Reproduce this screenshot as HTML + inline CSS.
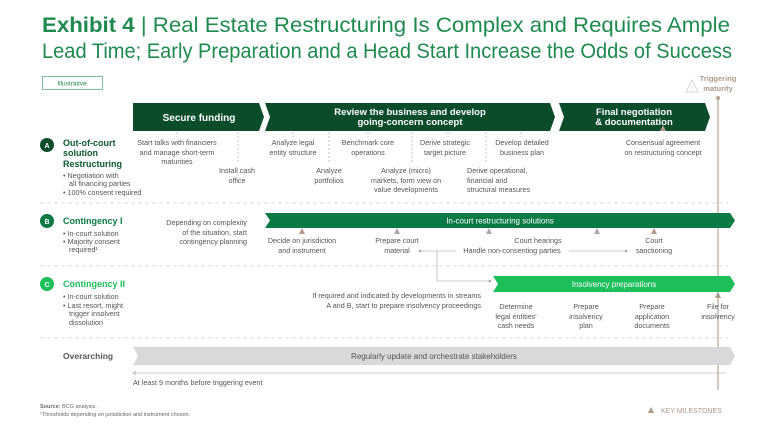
<!DOCTYPE html>
<html><head><meta charset="utf-8"><style>
body{margin:0;background:#fff}
svg{display:block;font-family:"Liberation Sans",sans-serif}
.g{fill:#555;font-size:7.2px}
.w{fill:#fff}
</style></head><body>
<svg width="768" height="432" viewBox="0 0 768 432" xmlns="http://www.w3.org/2000/svg">
<text x="42" y="32" font-size="21" fill="#1e8a50" textLength="688" lengthAdjust="spacingAndGlyphs"><tspan font-weight="bold">Exhibit 4</tspan> | Real Estate Restructuring Is Complex and Requires Ample</text>
<text x="42" y="58" font-size="21" fill="#1e8a50" textLength="690" lengthAdjust="spacingAndGlyphs">Lead Time; Early Preparation and a Head Start Increase the Odds of Success</text>
<rect x="42.5" y="76.5" width="60" height="13" fill="none" stroke="#7fbf9a"/>
<text x="72" y="85.5" font-size="6.5" fill="#1e8a50" text-anchor="middle">Illustrative</text>
<!-- triggering -->
<path d="M686 92 L692 80 L698 92 Z" fill="none" stroke="#ccc" stroke-width="0.8"/>
<text x="692" y="90" font-size="6" fill="#ccc" text-anchor="middle">!</text>
<text x="718" y="81" font-size="7.5" fill="#b09a88" text-anchor="middle" font-weight="bold">Triggering</text>
<text x="718" y="91" font-size="7.5" fill="#b09a88" text-anchor="middle" font-weight="bold">maturity</text>
<line x1="718" y1="98" x2="718" y2="390" stroke="#b8a394" stroke-width="1.2"/>
<circle cx="718" cy="98" r="2" fill="#b8a394"/>
<!-- chevrons -->
<path d="M133 103 H259 L264 117 L259 131 H133 Z" fill="#0b4d2a"/>
<path d="M265 103 H550 L555 117 L550 131 H265 L270 117 Z" fill="#0b4d2a"/>
<path d="M559 103 H705 L710 117 L705 131 H559 L564 117 Z" fill="#0b4d2a"/>
<text x="199" y="121" class="w" font-size="10" font-weight="bold" text-anchor="middle">Secure funding</text>
<text x="410" y="115" class="w" font-size="9.5" font-weight="bold" text-anchor="middle">Review the business and develop</text>
<text x="410" y="125" class="w" font-size="9.5" font-weight="bold" text-anchor="middle">going-concern concept</text>
<text x="634" y="115" class="w" font-size="9.5" font-weight="bold" text-anchor="middle">Final negotiation</text>
<text x="634" y="125" class="w" font-size="9.5" font-weight="bold" text-anchor="middle">&amp; documentation</text>
<path d="M660 131 L663 125 L666 131Z" fill="#b09a88"/>
<!-- row A -->
<circle cx="47" cy="145" r="7" fill="#0b4d2a"/>
<text x="47" y="148" class="w" font-size="7" font-weight="bold" text-anchor="middle">A</text>
<g font-size="9" font-weight="bold" fill="#0b5a32"><text x="63" y="146">Out-of-court</text><text x="63" y="156">solution</text><text x="63" y="167">Restructuring</text></g>
<g class="g" font-size="6.5"><text x="63" y="178">• Negotiation with</text><text x="69" y="186">all financing parties</text><text x="63" y="195">• 100% consent required</text></g>
<g stroke="#999" stroke-width="0.6" stroke-dasharray="2,2"><line x1="238" y1="132" x2="238" y2="163"/><line x1="329" y1="132" x2="329" y2="163"/><line x1="486" y1="132" x2="486" y2="163"/><line x1="412" y1="132" x2="412" y2="163"/><line x1="177" y1="132" x2="177" y2="137"/><line x1="293" y1="132" x2="293" y2="137"/><line x1="368" y1="132" x2="368" y2="137"/><line x1="448" y1="132" x2="448" y2="137"/><line x1="521" y1="132" x2="521" y2="137"/></g>
<g class="g" text-anchor="middle">
<text x="177" y="145">Start talks with financiers</text><text x="177" y="155">and manage short-term</text><text x="177" y="164">maturities</text>
<text x="237" y="173">Install cash</text><text x="237" y="183">office</text>
<text x="293" y="145">Analyze legal</text><text x="293" y="155">entity structure</text>
<text x="329" y="173">Analyze</text><text x="329" y="183">portfolios</text>
<text x="368" y="145">Benchmark core</text><text x="368" y="155">operations</text>
<text x="406" y="173">Analyze (micro)</text><text x="406" y="183">markets, form view on</text><text x="406" y="192">value developments</text>
<text x="445" y="145">Derive strategic</text><text x="445" y="155">target picture</text>
<text x="522" y="145">Develop detailed</text><text x="522" y="155">business plan</text>
<text x="663" y="145">Consensual agreement</text><text x="663" y="155">on restructuring concept</text>
</g>
<g class="g"><text x="467" y="173">Derive operational,</text><text x="467" y="183">financial and</text><text x="467" y="192">structural measures</text></g>
<g stroke="#ccc" stroke-width="0.8" stroke-dasharray="4,3"><line x1="40" y1="203" x2="728" y2="203"/><line x1="40" y1="266" x2="728" y2="266"/><line x1="40" y1="338" x2="728" y2="338"/></g>
<!-- row B -->
<circle cx="47" cy="221" r="7" fill="#0a7a45"/>
<text x="47" y="224" class="w" font-size="7" font-weight="bold" text-anchor="middle">B</text>
<text x="63" y="224" font-size="9" font-weight="bold" fill="#0a7a45">Contingency I</text>
<g class="g" font-size="6.5"><text x="63" y="236">• In-court solution</text><text x="63" y="244">• Majority consent</text><text x="69" y="252">required¹</text></g>
<g class="g" text-anchor="end"><text x="247" y="225">Depending on complexity</text><text x="247" y="235">of the situation, start</text><text x="247" y="244">contingency planning</text></g>
<path d="M265 213 H730 L735 220.5 L730 228 H265 L270 220.5Z" fill="#0a7a45"/>
<text x="500" y="223.5" class="w" font-size="8" text-anchor="middle">In-court restructuring solutions</text>
<g><path d="M299 234 L302 228 L305 234Z" fill="#b09a88"/><path d="M394 234 L397 228 L400 234Z" fill="#aaa"/><path d="M486 234 L489 228 L492 234Z" fill="#aaa"/><path d="M594 234 L597 228 L600 234Z" fill="#aaa"/><path d="M651 234 L654 228 L657 234Z" fill="#b09a88"/></g>
<g class="g" text-anchor="middle"><text x="302" y="243">Decide on jurisdiction</text><text x="302" y="253">and instrument</text><text x="397" y="243">Prepare court</text><text x="397" y="253">material</text><text x="538" y="243">Court hearings</text><text x="512" y="253">Handle non-consenting parties</text><text x="654" y="243">Court</text><text x="654" y="253">sanctioning</text></g>
<g stroke="#999" stroke-width="0.6" fill="none"><path d="M420 251 H456"/><path d="M569 251 H626"/><path d="M437 251 V281 H490"/></g>
<path d="M418 251 l3 -1.5 v3Z M628 251 l-3 -1.5 v3Z M492 281 l-3 -1.5 v3Z" fill="#999"/>
<!-- row C -->
<circle cx="47" cy="284" r="7" fill="#1dbf5a"/>
<text x="47" y="287" class="w" font-size="7" font-weight="bold" text-anchor="middle">C</text>
<text x="63" y="287" font-size="9" font-weight="bold" fill="#1dbf5a">Contingency II</text>
<g class="g" font-size="6.5"><text x="63" y="299">• In-court solution</text><text x="63" y="308">• Last resort, might</text><text x="69" y="316">trigger insolvent</text><text x="69" y="325">dissolution</text></g>
<g class="g" text-anchor="end"><text x="481" y="298">If required and indicated by developments in streams</text><text x="481" y="308">A and B, start to prepare insolvency proceedings</text></g>
<path d="M493 276 H730 L735 284 L730 292 H493 L498 284Z" fill="#1dbf5a"/>
<text x="614" y="287" class="w" font-size="8" text-anchor="middle">Insolvency preparations</text>
<path d="M715 298 L718 292 L721 298Z" fill="#b09a88"/>
<g class="g" text-anchor="middle"><text x="516" y="309">Determine</text><text x="516" y="319">legal entities'</text><text x="516" y="328">cash needs</text><text x="586" y="309">Prepare</text><text x="586" y="319">insolvency</text><text x="586" y="328">plan</text><text x="652" y="309">Prepare</text><text x="652" y="319">application</text><text x="652" y="328">documents</text><text x="718" y="309">File for</text><text x="718" y="319">insolvency</text></g>
<!-- overarching -->
<text x="63" y="359" font-size="8.5" font-weight="bold" fill="#555">Overarching</text>
<path d="M133 347 H730 L735 356 L730 365 H133 L138 356Z" fill="#d9d9d9"/>
<text x="434" y="359" font-size="8" fill="#555" text-anchor="middle">Regularly update and orchestrate stakeholders</text>
<line x1="134" y1="373" x2="726" y2="373" stroke="#bbb" stroke-width="0.8"/>
<path d="M133 373 l3 -2 M133 373 l3 2" stroke="#999" stroke-width="0.6"/>
<text x="133" y="385" class="g">At least 9 months before triggering event</text>
<text x="40" y="408" font-size="5.5" fill="#666"><tspan font-weight="bold">Source:</tspan> BCG analysis.</text>
<text x="40" y="416" font-size="5.5" fill="#666">¹Thresholds depending on jurisdiction and instrument chosen.</text>
<path d="M648 413 L651 407 L654 413Z" fill="#b09a88"/>
<text x="661" y="413" font-size="7" fill="#b09a88">KEY MILESTONES</text>
</svg>
</body></html>
